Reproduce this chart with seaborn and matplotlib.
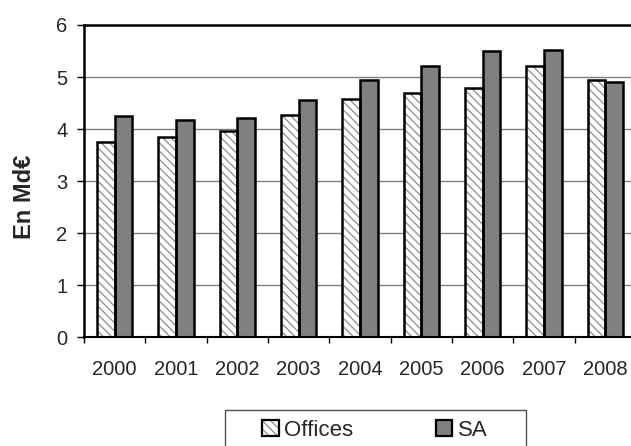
import seaborn as sns
import matplotlib.pyplot as plt
import pandas as pd
from matplotlib.patches import Rectangle

years = ['2000', '2001', '2002', '2003', '2004', '2005', '2006', '2007', '2008']
offices = [3.76, 3.85, 3.96, 4.27, 4.58, 4.70, 4.79, 5.21, 4.95]
sa = [4.26, 4.18, 4.22, 4.56, 4.95, 5.22, 5.50, 5.52, 4.91]
series = ['Offices', 'SA']

df = pd.DataFrame({
    'year': years * 2,
    'value': offices + sa,
    'series': ['Offices'] * len(years) + ['SA'] * len(years),
})

sns.set_style('white')
plt.rcParams['font.family'] = ['Liberation Sans', 'DejaVu Sans']
plt.rcParams['hatch.linewidth'] = 0.9

fig = plt.figure(figsize=(6.31, 4.46), dpi=100)
ax = fig.add_axes([84 / 631, 1 - 337.3 / 446, 552 / 631, 312.3 / 446])

# fill layer (hatch for Offices)
sns.barplot(data=df, x='year', y='value', hue='series', hue_order=series,
            palette=['white', '#808080'], width=0.58, gap=0, linewidth=0,
            errorbar=None, legend=False, ax=ax)
for p in ax.containers[0]:
    p.set_hatch('\\\\\\\\')
    p.set_edgecolor('#8c8c8c')
    p.set_linewidth(0)

# outline layer
sns.barplot(data=df, x='year', y='value', hue='series', hue_order=series,
            palette=['black', 'black'], fill=False, width=0.58, gap=0,
            linewidth=1.8, errorbar=None, legend=False, ax=ax)

ax.set_ylim(0, 6)
ax.set_xlim(-0.5, 8.5)
ax.set_yticks(range(7))
ax.yaxis.grid(True, color='#808080', linewidth=1)
ax.set_axisbelow(True)

for s in ['left', 'top', 'bottom']:
    ax.spines[s].set_color('black')
ax.spines['left'].set_linewidth(1.8)
ax.spines['top'].set_linewidth(1.8)
ax.spines['bottom'].set_linewidth(1.5)
ax.spines['right'].set_visible(False)

ax.tick_params(axis='y', which='major', left=True, length=5, width=1,
               color='black', labelsize=14.5, pad=7)
ax.tick_params(axis='x', which='major', bottom=True, length=0, labelsize=14.5, pad=16)
ax.set_xticks([i - 0.5 for i in range(len(years) + 1)], minor=True)
ax.tick_params(axis='x', which='minor', bottom=True, length=4, width=1, color='black')

ax.set_xlabel('')
ax.set_ylabel('En Md€', fontsize=17, fontweight='bold')
ax.yaxis.set_label_coords(-0.087, 0.45)

# legend
h_off = (Rectangle((0, 0), 1, 1, facecolor='white', edgecolor='#8c8c8c', hatch='\\\\\\\\', linewidth=0),
         Rectangle((0, 0), 1, 1, facecolor='none', edgecolor='black', linewidth=1.6))
h_sa = Rectangle((0, 0), 1, 1, facecolor='#808080', edgecolor='black', linewidth=1.6)
fig.legend([h_off, h_sa], series, loc='center left',
           bbox_to_anchor=(251 / 631, 1 - 430 / 446), frameon=False, ncol=2,
           fontsize=16, borderpad=0, handlelength=0.75, handleheight=0.75,
           handletextpad=0.25, columnspacing=3.7)
fig.patches.append(Rectangle((225 / 631, -0.02), 301 / 631, 0.02 + 36 / 446,
                             transform=fig.transFigure, facecolor='none',
                             edgecolor='#505050', linewidth=1))

plt.savefig('out.png', dpi=100)
